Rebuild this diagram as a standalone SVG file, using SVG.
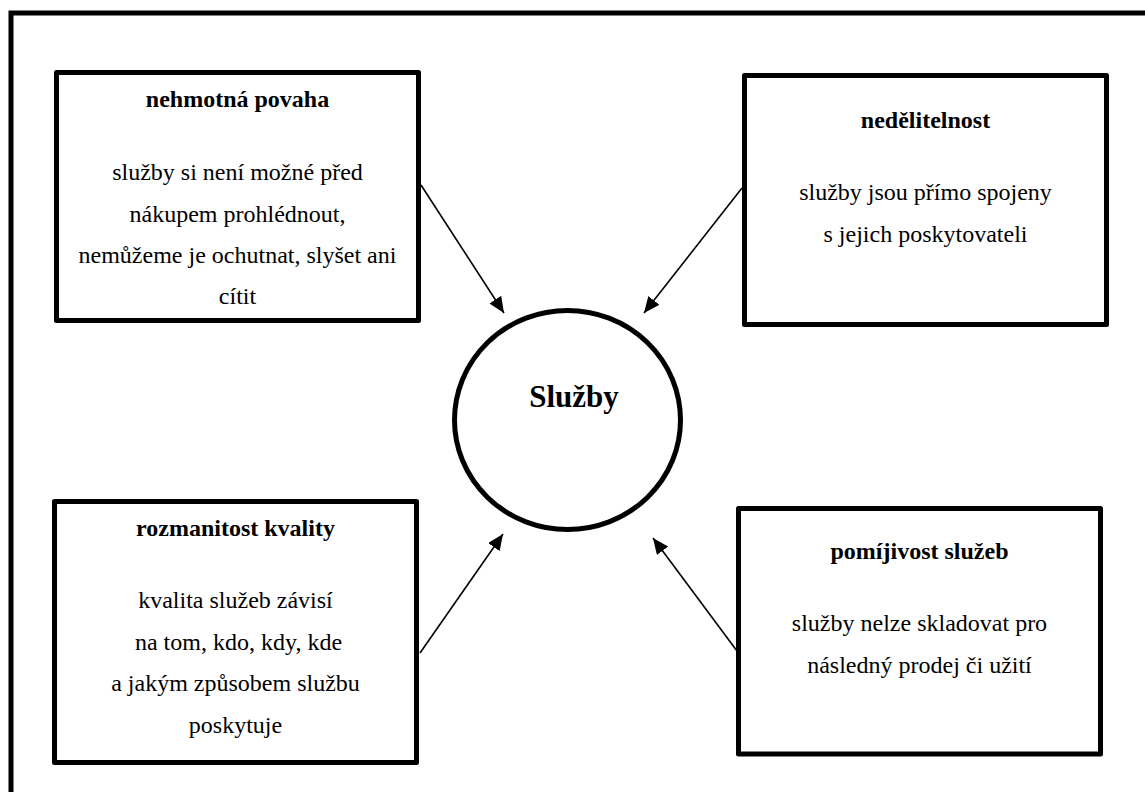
<svg xmlns="http://www.w3.org/2000/svg" width="1145" height="792" viewBox="0 0 1145 792">
<style>
.frame{fill:none;stroke:#000;stroke-width:5}
.box{fill:#fff;stroke:#000;stroke-width:5;stroke-linejoin:round}
text{font-family:'Liberation Serif','Times New Roman',Tinos,'DejaVu Serif',serif;fill:#000;text-anchor:middle}
.t{font-size:24px}
.b{font-weight:bold}
.big{font-size:31px;font-weight:bold}
.conn{stroke:#000;stroke-width:1.6;fill:none}
</style>
<defs>
<marker id="ah" markerUnits="userSpaceOnUse" markerWidth="18" markerHeight="14" refX="16" refY="7" orient="auto">
<path d="M0,0 L16,7 L0,14 Z" fill="#000"/>
</marker>
</defs>
<rect width="1145" height="792" fill="#fff"/>
<rect class="frame" x="11" y="13" width="1200" height="900"/>
<g id="node-nehmotna">
<rect class="box" x="56.5" y="72.5" width="362" height="248"/>
<text class="t b" x="237.5" y="107">nehmotná povaha</text>
<text class="t" x="237.5" y="180">služby si není možné před</text>
<text class="t" x="237.5" y="221.5">nákupem prohlédnout,</text>
<text class="t" x="237.5" y="262.5">nemůžeme je ochutnat, slyšet ani</text>
<text class="t" x="237.5" y="304">cítit</text>
</g>
<g id="node-nedelitelnost">
<rect class="box" x="744.5" y="75.5" width="362" height="249"/>
<text class="t b" x="925.5" y="128">nedělitelnost</text>
<text class="t" x="925.5" y="200">služby jsou přímo spojeny</text>
<text class="t" x="925.5" y="242">s jejich poskytovateli</text>
</g>
<g id="node-rozmanitost">
<rect class="box" x="54.5" y="501.5" width="362" height="261"/>
<text class="t b" x="235.5" y="536">rozmanitost kvality</text>
<text class="t" x="235.5" y="608">kvalita služeb závisí</text>
<text class="t" x="238.5" y="650">na tom, kdo, kdy, kde</text>
<text class="t" x="235.5" y="691">a jakým způsobem službu</text>
<text class="t" x="235.5" y="732.5">poskytuje</text>
</g>
<g id="node-pomijivost">
<rect class="box" x="738.5" y="508.5" width="362" height="245.5"/>
<text class="t b" x="919.5" y="559">pomíjivost služeb</text>
<text class="t" x="919.5" y="631">služby nelze skladovat pro</text>
<text class="t" x="919.5" y="673">následný prodej či užití</text>
</g>
<g id="node-sluzby">
<ellipse cx="567.5" cy="420" rx="113" ry="109.5" fill="#fff" stroke="#000" stroke-width="5"/>
<text class="big" x="574" y="407">Služby</text>
</g>
<g id="connectors">
<line class="conn" x1="421" y1="185" x2="504" y2="313" marker-end="url(#ah)"/>
<line class="conn" x1="742" y1="188" x2="644" y2="313" marker-end="url(#ah)"/>
<line class="conn" x1="420" y1="653" x2="503" y2="534" marker-end="url(#ah)"/>
<line class="conn" x1="737" y1="651" x2="653" y2="538" marker-end="url(#ah)"/>
</g>
</svg>
